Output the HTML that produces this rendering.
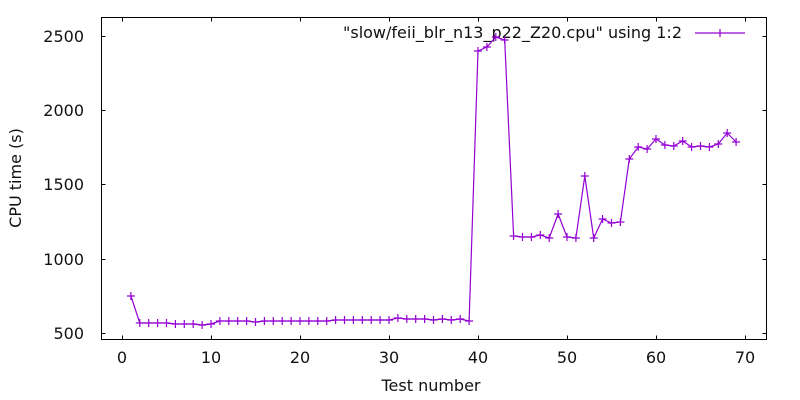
<!DOCTYPE html>
<html><head><meta charset="utf-8"><style>
html,body{margin:0;padding:0;background:#fff;}
svg{display:block;}
text{font-family:"DejaVu Sans","Liberation Sans",sans-serif;font-size:16px;fill:#111;}
</style></head><body>
<svg width="800" height="400" viewBox="0 0 800 400" xmlns="http://www.w3.org/2000/svg">
<defs>
<marker id="p" markerUnits="userSpaceOnUse" markerWidth="10" markerHeight="10" refX="5" refY="5" overflow="visible">
<path d="M1 5h8M5 1v8" stroke="#9400d3" stroke-width="1.2" fill="none"/>
</marker>
</defs>
<g stroke="#000" stroke-width="1" fill="none">
<rect x="101.5" y="17.5" width="665" height="322"/>
<path d="M101.5 333.5h4M766.5 333.5h-4M101.5 259.5h4M766.5 259.5h-4M101.5 184.5h4M766.5 184.5h-4M101.5 110.5h4M766.5 110.5h-4M101.5 36.5h4M766.5 36.5h-4"/>
<path d="M122.5 339.5v-4M122.5 17.5v4M211.5 339.5v-4M211.5 17.5v4M300.5 339.5v-4M300.5 17.5v4M389.5 339.5v-4M389.5 17.5v4M478.5 339.5v-4M478.5 17.5v4M567.5 339.5v-4M567.5 17.5v4M656.5 339.5v-4M656.5 17.5v4M745.5 339.5v-4M745.5 17.5v4"/>
</g>
<g text-anchor="end">
<text x="84" y="339">500</text><text x="84" y="265">1000</text><text x="84" y="190">1500</text><text x="84" y="116">2000</text><text x="84" y="42">2500</text>
</g>
<g text-anchor="middle">
<text x="122" y="363">0</text><text x="211" y="363">10</text><text x="300" y="363">20</text><text x="389" y="363">30</text><text x="478" y="363">40</text><text x="567" y="363">50</text><text x="656" y="363">60</text><text x="745" y="363">70</text>
<text x="431" y="391">Test number</text>
<text transform="translate(21,178) rotate(-90)">CPU time (s)</text>
</g>
<text x="343" y="38" textLength="339" lengthAdjust="spacingAndGlyphs">"slow/feii_blr_n13_p22_Z20.cpu" using 1:2</text>
<g stroke="#9400d3" stroke-width="1.2" fill="none">
<path d="M695 33h50M720 29v8M716 33h8"/>
<polyline marker-start="url(#p)" marker-mid="url(#p)" marker-end="url(#p)" points="130.9,296 139.8,323 148.7,323 157.6,323 166.5,323 175.4,324 184.3,324 193.2,324 202.1,325 211,324 219.9,321 228.8,321 237.7,321 246.6,321 255.5,322 264.4,321 273.3,321 282.2,321 291.1,321 300,321 308.9,321 317.8,321 326.7,321 335.6,320 344.5,320 353.4,320 362.3,320 371.2,320 380.1,320 389,320 397.9,318 406.8,319 415.7,319 424.6,319 433.5,320 442.4,319 451.3,320 460.2,319 469.1,321 478,51 486.9,47 495.8,37 504.7,40 513.6,236 522.5,237 531.4,237 540.3,235 549.2,238 558.1,214 567,237 575.9,238 584.8,176 593.7,238 602.6,219 611.5,223 620.4,222 629.3,159 638.2,147 647.1,149 656,139 664.9,145 673.8,146 682.7,141 691.6,147 700.5,146 709.4,147 718.3,144 727.2,133 736.1,142"/>
</g>
</svg>
</body></html>
